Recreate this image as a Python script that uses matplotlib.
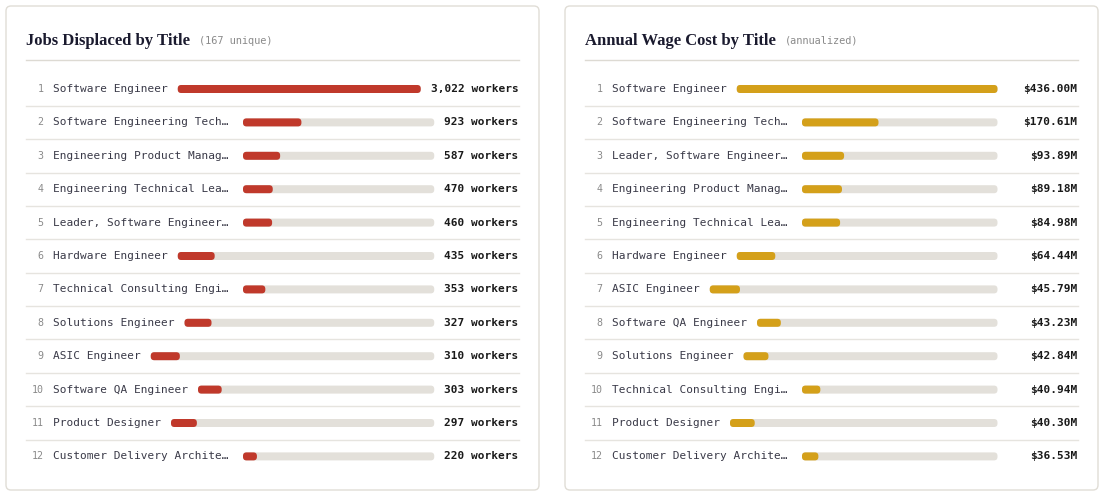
import matplotlib
matplotlib.use('Agg')
import matplotlib.pyplot as plt
from matplotlib.patches import FancyBboxPatch

# data
jobs_titles = ['Software Engineer', 'Software Engineering Tech…', 'Engineering Product Manag…',
               'Engineering Technical Lea…', 'Leader, Software Engineer…', 'Hardware Engineer',
               'Technical Consulting Engi…', 'Solutions Engineer', 'ASIC Engineer',
               'Software QA Engineer', 'Product Designer', 'Customer Delivery Archite…']
jobs_workers = [3022, 923, 587, 470, 460, 435, 353, 327, 310, 303, 297, 220]

wage_titles = ['Software Engineer', 'Software Engineering Tech…', 'Leader, Software Engineer…',
               'Engineering Product Manag…', 'Engineering Technical Lea…', 'Hardware Engineer',
               'ASIC Engineer', 'Software QA Engineer', 'Solutions Engineer',
               'Technical Consulting Engi…', 'Product Designer', 'Customer Delivery Archite…']
wage_millions = [436.00, 170.61, 93.89, 89.18, 84.98, 64.44, 45.79, 43.23, 42.84, 40.94, 40.30, 36.53]

MONO = 'DejaVu Sans Mono'
SERIF = 'Liberation Serif'
TRACK = '#e3e0da'
RULE = '#e6e4df'

fig = plt.figure(figsize=(11.1, 4.95), dpi=100)
fig.patch.set_facecolor('white')
ax = fig.add_axes([0, 0, 1, 1])
ax.set_xlim(0, 1110)
ax.set_ylim(495, 0)
ax.axis('off')
renderer = fig.canvas.get_renderer()


def text_w(t):
    bb = t.get_window_extent(renderer=renderer)
    return bb.width


def draw_panel(x0, title, subtitle, labels, values, fmt, color, min_val_w):
    # card
    ax.add_patch(FancyBboxPatch((x0 + 6, 6), 533, 484, boxstyle='round,pad=0,rounding_size=5',
                                fc='white', ec='#e0ddd6', lw=1.0))
    t = ax.text(x0 + 26, 45, title, fontsize=12, fontweight='bold', family=SERIF,
                color='#1a1a2e', va='baseline')
    tw = text_w(t)
    ax.text(x0 + 26 + tw + 9, 43.5, subtitle, fontsize=7.4, family=MONO,
            color='#8a8a8a', va='baseline')
    ax.plot([x0 + 26, x0 + 519], [59.5, 59.5], color='#dddad3', lw=1)

    vmax = max(values)
    row_h = 33.4
    for i, (lab, v) in enumerate(zip(labels, values)):
        y = 89 + i * row_h
        ax.text(x0 + 43.5, y, str(i + 1), fontsize=7.2, family=MONO, color='#8a8a8a',
                ha='right', va='center')
        lt = ax.text(x0 + 53, y, lab, fontsize=8.0, family=MONO, color='#3a3a48',
                     ha='left', va='center')
        lab_w = 180 if lab.endswith('…') else text_w(lt)
        vt = ax.text(x0 + 518.5, y, fmt(v), fontsize=8.0, family=MONO, fontweight='bold',
                     color='#1a1a1a', ha='right', va='center')
        val_w = max(min_val_w, text_w(vt))
        start = x0 + 53 + lab_w + 10
        end = x0 + 518.5 - val_w - 10
        width = end - start
        ax.add_patch(FancyBboxPatch((start, y - 4), width, 8,
                                    boxstyle='round,pad=0,rounding_size=3.5',
                                    fc=TRACK, ec='none'))
        ax.add_patch(FancyBboxPatch((start, y - 4), width * v / vmax, 8,
                                    boxstyle='round,pad=0,rounding_size=3.5',
                                    fc=color, ec='none'))
        if i < len(labels) - 1:
            ax.plot([x0 + 26, x0 + 519], [y + row_h / 2, y + row_h / 2], color=RULE, lw=1)


draw_panel(0, 'Jobs Displaced by Title', '(167 unique)', jobs_titles, jobs_workers,
           lambda v: f'{v:,} workers', '#c0392b', 70)
draw_panel(559, 'Annual Wage Cost by Title', '(annualized)', wage_titles, wage_millions,
           lambda v: f'${v:.2f}M', '#d4a01a', 70)

fig.savefig('out.png', dpi=100, facecolor='white')
